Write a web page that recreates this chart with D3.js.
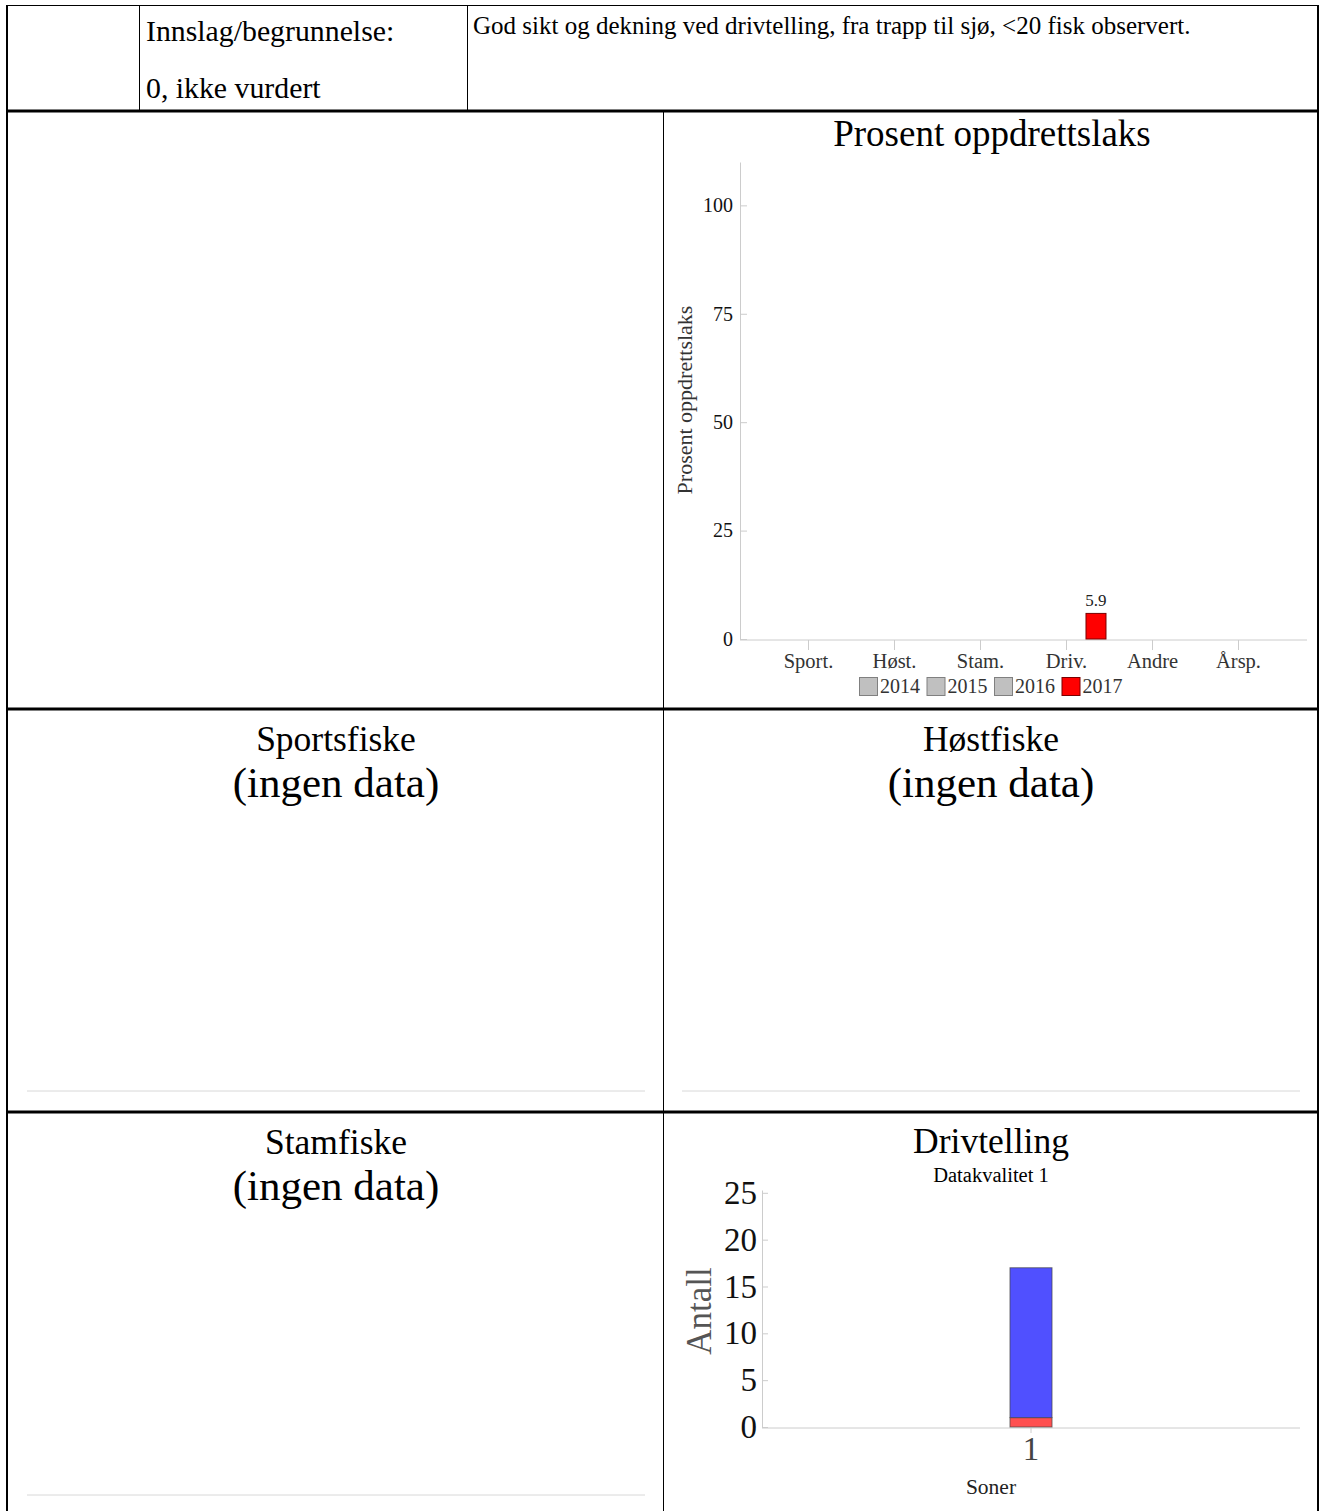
<!DOCTYPE html>
<html>
<head>
<meta charset="utf-8">
<script src="https://cdn.jsdelivr.net/npm/d3@7"></script>
<style>
	body { margin: 0; background: #fff; }
	svg { display: block; font-family: 'Liberation Serif', serif; }
</style>
</head>
<body>
<svg id="page" width="1320" height="1511"></svg>
<script>
// data
var categories = ['Sport.', 'Høst.', 'Stam.', 'Driv.', 'Andre', 'Årsp.'];
var years = ['2014', '2015', '2016', '2017'];
var yearColors = ['#c0c0c0', '#c0c0c0', '#c0c0c0', '#ff0000'];
var pct2014 = [null, null, null, null, null, null];
var pct2015 = [null, null, null, null, null, null];
var pct2016 = [null, null, null, null, null, null];
var pct2017 = [null, null, null, 5.9, null, null];
var pctTicks = [0, 25, 50, 75, 100];

var zones = ['1'];
var driftOppdrett = [1];
var driftVill = [16];
var driftTicks = [0, 5, 10, 15, 20, 25];

var emptyPanels = [
	{ title: 'Sportsfiske', col: 0, row: 0 },
	{ title: 'Høstfiske', col: 1, row: 0 },
	{ title: 'Stamfiske', col: 0, row: 1 }
];

let svg = d3.select('#page');

// ---- table frame ----
let frame = svg.append('g').attr('stroke', '#000').attr('fill', 'none');
frame.append('line').attr('x1', 7).attr('x2', 1318).attr('y1', 5.5).attr('y2', 5.5).attr('stroke-width', 1);
frame.append('line').attr('x1', 7).attr('x2', 7).attr('y1', 5).attr('y2', 1511).attr('stroke-width', 2);
frame.append('line').attr('x1', 1318).attr('x2', 1318).attr('y1', 5).attr('y2', 1511).attr('stroke-width', 2);
frame.append('line').attr('x1', 139.5).attr('x2', 139.5).attr('y1', 5).attr('y2', 111).attr('stroke-width', 1);
frame.append('line').attr('x1', 467.5).attr('x2', 467.5).attr('y1', 5).attr('y2', 111).attr('stroke-width', 1);
frame.append('line').attr('x1', 663.5).attr('x2', 663.5).attr('y1', 111).attr('y2', 1511).attr('stroke-width', 1);
[111, 709, 1112].forEach(y => {
	frame.append('line').attr('x1', 6).attr('x2', 1319).attr('y1', y).attr('y2', y).attr('stroke-width', 3);
});

svg.append('text').attr('x', 146).attr('y', 41).attr('font-size', 29.8).text('Innslag/begrunnelse:');
svg.append('text').attr('x', 146).attr('y', 98).attr('font-size', 29.8).text('0, ikke vurdert');
svg.append('text').attr('x', 473).attr('y', 34).attr('font-size', 25)
	.text('God sikt og dekning ved drivtelling, fra trapp til sjø, <20 fisk observert.');

// ---- Prosent oppdrettslaks ----
let pctSeries = [pct2014, pct2015, pct2016, pct2017];
let x0 = d3.scaleBand().domain(categories).range([765, 1281]);
let x1 = d3.scaleBand().domain(years).range([0, x0.bandwidth() * 0.93]);
let yPct = d3.scaleLinear().domain([0, 110]).range([639, 162]);

let pct = svg.append('g');
pct.append('text').attr('x', 992).attr('y', 146).attr('text-anchor', 'middle')
	.attr('font-size', 37).text('Prosent oppdrettslaks');

let yAxisPct = pct.append('g').attr('transform', 'translate(740,0)')
	.call(d3.axisLeft(yPct).tickValues(pctTicks).tickSize(-7).tickSizeOuter(0).tickPadding(7));
yAxisPct.select('.domain').attr('stroke', '#ccc');
yAxisPct.selectAll('.tick line').attr('stroke', '#ccc');
yAxisPct.selectAll('text').attr('font-family', 'Liberation Serif').attr('font-size', 20).attr('fill', '#111');

let xAxisPct = pct.append('g').attr('transform', 'translate(' + (x0.bandwidth() / 2) + ',640)')
	.call(d3.axisBottom(d3.scalePoint().domain(categories).range([x0(categories[0]), x0(categories[5])]))
		.tickSize(10).tickSizeOuter(0).tickPadding(3));
xAxisPct.select('.domain').remove();
xAxisPct.selectAll('.tick line').attr('stroke', '#ccc');
xAxisPct.selectAll('text').attr('font-family', 'Liberation Serif').attr('font-size', 20.5).attr('fill', '#333');
pct.append('line').attr('x1', 740).attr('x2', 1307).attr('y1', 640).attr('y2', 640).attr('stroke', '#ccc');

pct.append('text').attr('transform', 'translate(692,400) rotate(-90)').attr('text-anchor', 'middle')
	.attr('font-size', 22).attr('fill', '#333').text('Prosent oppdrettslaks');

let pctBars = [];
pctSeries.forEach((series, yi) => {
	series.forEach((v, ci) => {
		if (v !== null) { pctBars.push({ cat: categories[ci], year: years[yi], value: v, color: yearColors[yi] }); }
	});
});
let barOffset = (x0.bandwidth() - x1.range()[1]) / 2;
pct.selectAll('.pctbar').data(pctBars).enter().append('rect')
	.attr('class', 'pctbar')
	.attr('x', d => x0(d.cat) + barOffset + x1(d.year))
	.attr('y', d => yPct(d.value))
	.attr('width', x1.bandwidth())
	.attr('height', d => yPct(0) - yPct(d.value))
	.attr('fill', d => d.color)
	.attr('stroke', '#7a0000');
pct.selectAll('.pctlabel').data(pctBars).enter().append('text')
	.attr('x', d => x0(d.cat) + barOffset + x1(d.year) + x1.bandwidth() / 2)
	.attr('y', d => yPct(d.value) - 7)
	.attr('text-anchor', 'middle').attr('font-size', 17).attr('fill', '#222')
	.text(d => d3.format('.1f')(d.value));

// legend
let legend = pct.append('g').attr('transform', 'translate(859,677)');
let lx = 0;
years.forEach((yr, i) => {
	legend.append('rect').attr('x', lx + 0.5).attr('y', 0.5).attr('width', 18).attr('height', 18)
		.attr('fill', yearColors[i]).attr('stroke', i === 3 ? '#7a0000' : '#808080');
	legend.append('text').attr('x', lx + 21).attr('y', 16).attr('font-size', 20).attr('fill', '#333').text(yr);
	lx += 67.5;
});

// ---- empty panels ----
emptyPanels.forEach(p => {
	let cx = p.col === 0 ? 336 : 991;
	let top = p.row === 0 ? 709 : 1112;
	svg.append('text').attr('x', cx).attr('y', top + 42).attr('text-anchor', 'middle')
		.attr('font-size', 35.5).text(p.title);
	svg.append('text').attr('x', cx).attr('y', top + 88).attr('text-anchor', 'middle')
		.attr('font-size', 43).text('(ingen data)');
	let ly = p.row === 0 ? 1091 : 1495;
	svg.append('line').attr('x1', cx - 309).attr('x2', cx + 309).attr('y1', ly).attr('y2', ly)
		.attr('stroke', '#d8d8d8');
});

// ---- Drivtelling ----
let drift = svg.append('g');
drift.append('text').attr('x', 991).attr('y', 1153).attr('text-anchor', 'middle')
	.attr('font-size', 35.5).text('Drivtelling');
drift.append('text').attr('x', 991).attr('y', 1182).attr('text-anchor', 'middle')
	.attr('font-size', 20.5).text('Datakvalitet 1');

let xz = d3.scaleBand().domain(zones).range([762, 1300]).padding(0.855);
let yz = d3.scaleLinear().domain([0, 25.3]).range([1427, 1190]);

let yAxisD = drift.append('g').attr('transform', 'translate(762,0)')
	.call(d3.axisLeft(yz).tickValues(driftTicks).tickSize(-6).tickSizeOuter(0).tickPadding(5));
yAxisD.select('.domain').attr('stroke', '#ccc');
yAxisD.selectAll('.tick line').attr('stroke', '#ccc');
yAxisD.selectAll('text').attr('font-family', 'Liberation Serif').attr('font-size', 33).attr('fill', '#111');

let xAxisD = drift.append('g').attr('transform', 'translate(0,1428)')
	.call(d3.axisBottom(xz).tickSize(5).tickSizeOuter(0).tickPadding(4));
xAxisD.select('.domain').remove();
xAxisD.selectAll('.tick line').attr('stroke', '#ccc');
xAxisD.selectAll('text').attr('font-family', 'Liberation Serif').attr('font-size', 33).attr('fill', '#444');
drift.append('line').attr('x1', 762).attr('x2', 1300).attr('y1', 1428).attr('y2', 1428).attr('stroke', '#ccc');

drift.append('text').attr('transform', 'translate(711,1311) rotate(-90)').attr('text-anchor', 'middle')
	.attr('font-size', 35).attr('fill', '#555').text('Antall');
drift.append('text').attr('x', 991).attr('y', 1494).attr('text-anchor', 'middle')
	.attr('font-size', 21.5).attr('fill', '#222').text('Soner');

let stack = d3.stack().keys(['oppdrett', 'vill']);
let stackData = zones.map((z, i) => ({ zone: z, oppdrett: driftOppdrett[i], vill: driftVill[i] }));
let stackColors = { oppdrett: '#ff5050', vill: '#5050ff' };
drift.selectAll('.layer').data(stack(stackData)).enter().append('g')
	.attr('fill', d => stackColors[d.key])
	.selectAll('rect').data(d => d).enter().append('rect')
	.attr('x', d => xz(d.data.zone))
	.attr('y', d => yz(d[1]))
	.attr('width', xz.bandwidth())
	.attr('height', d => yz(d[0]) - yz(d[1]))
	.attr('stroke', '#444').attr('stroke-opacity', 0.7);
</script>
</body>
</html>
